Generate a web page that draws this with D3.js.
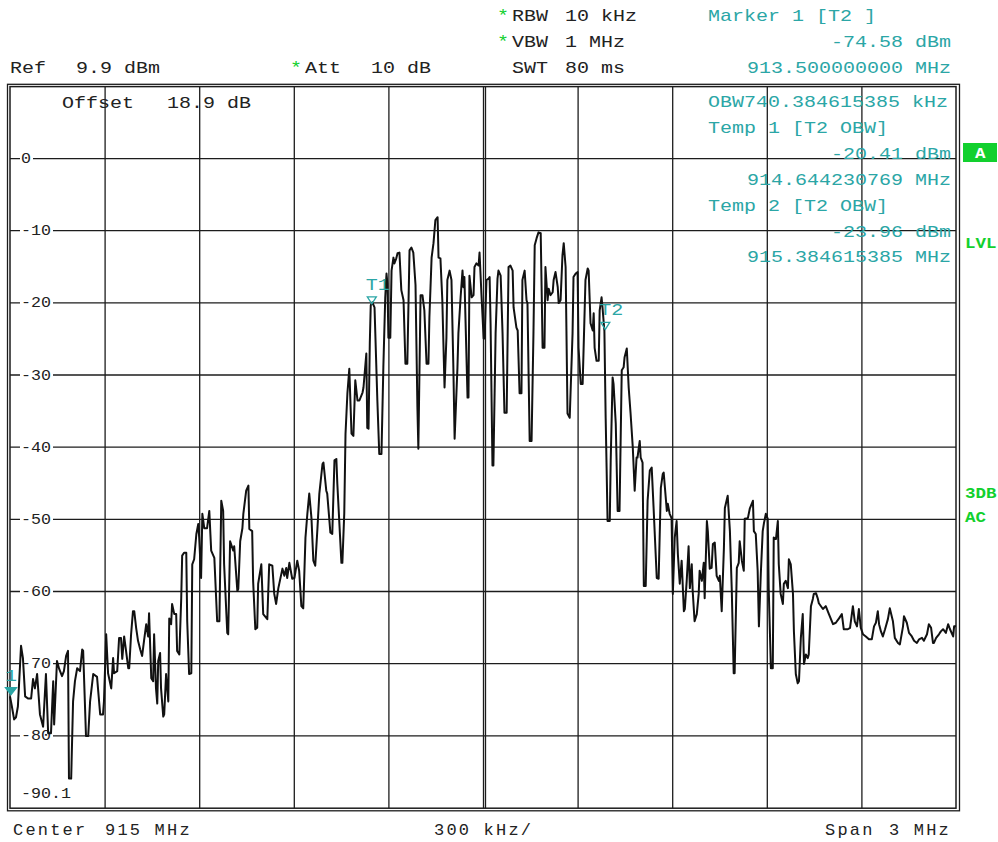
<!DOCTYPE html>
<html>
<head>
<meta charset="utf-8">
<script src="https://cdn.jsdelivr.net/npm/d3@7"></script>
<style>
  body { margin: 0; background: #fff; }
  text { font-family: "Liberation Mono", "Courier New", monospace; white-space: pre; }
</style>
</head>
<body>
<svg width="998" height="842"></svg>
<script>
// sweep settings
var startMHz = 913.5, stopMHz = 916.5, centerMHz = 915;
var refLevel = 9.9, bottomLevel = -90.1;

// grid / tick values
var gridFreqs = [913.8, 914.1, 914.4, 914.7, 915.0, 915.3, 915.6, 915.9, 916.2];
var gridLevels = [0, -10, -20, -30, -40, -50, -60, -70, -80];
var levelLabels = ["0", "-10", "-20", "-30", "-40", "-50", "-60", "-70", "-80"];

// trace: [kHz above start frequency, level dBm]
var trace = [
  [0,-74.6],[6,-76.0],[13,-77.8],[19,-77.5],[25,-76.0],[35,-67.6],[41,-69.3],[48,-74.6],[57,-74.9],[67,-74.9],
  [73,-72.2],[79,-73.5],[86,-71.5],[95,-77.1],[105,-78.8],[114,-71.5],[121,-79.7],[130,-79.7],[137,-72.5],[140,-78.5],
  [149,-69.7],[156,-70.8],[165,-71.8],[171,-71.1],[178,-69.0],[184,-68.3],[187,-86.0],[194,-86.0],[200,-75.3],[206,-72.5],
  [213,-70.7],[222,-71.1],[229,-68.1],[232,-68.3],[241,-80.1],[248,-80.1],[254,-75.3],[264,-71.5],[276,-71.9],[286,-77.1],
  [295,-77.1],[298,-75.3],[305,-66.0],[311,-71.4],[321,-73.5],[327,-69.3],[330,-71.4],[340,-71.1],[346,-66.5],[352,-66.5],
  [356,-69.4],[362,-66.3],[368,-68.3],[375,-70.7],[378,-70.7],[384,-66.0],[390,-62.8],[394,-62.8],[400,-65.1],[406,-66.9],
  [413,-68.1],[419,-69.0],[425,-66.9],[432,-64.6],[438,-66.3],[441,-63.1],[448,-72.1],[454,-72.5],[457,-66.0],[463,-73.5],
  [467,-75.6],[470,-69.7],[476,-68.6],[479,-73.5],[486,-77.4],[489,-77.1],[495,-71.5],[502,-75.3],[505,-63.8],[511,-64.6],
  [514,-61.8],[521,-63.2],[527,-63.2],[530,-68.3],[537,-68.8],[543,-61.0],[546,-55.1],[552,-54.7],[559,-54.7],[562,-64.2],
  [568,-71.5],[575,-71.4],[578,-56.3],[584,-55.6],[591,-52.1],[597,-50.7],[600,-52.6],[606,-58.2],[610,-49.3],[616,-51.3],
  [625,-51.3],[632,-48.9],[638,-54.4],[648,-55.4],[657,-64.2],[664,-64.2],[670,-47.5],[676,-48.9],[679,-56.3],[689,-65.8],
  [692,-66.0],[698,-53.1],[708,-54.4],[711,-53.8],[721,-60.0],[724,-59.7],[730,-53.1],[737,-51.3],[740,-49.3],[749,-46.1],
  [756,-45.4],[759,-51.4],[768,-51.7],[771,-58.6],[778,-65.3],[784,-65.1],[787,-59.0],[797,-56.3],[803,-63.2],[816,-63.9],
  [822,-56.3],[832,-56.5],[838,-60.4],[844,-61.8],[851,-59.6],[864,-56.9],[870,-57.9],[876,-56.8],[879,-58.2],[886,-56.1],
  [895,-58.3],[902,-58.2],[911,-55.8],[917,-57.2],[924,-62.1],[930,-62.4],[937,-52.6],[943,-49.3],[949,-46.5],[956,-49.9],
  [962,-55.8],[968,-56.5],[975,-51.3],[981,-46.5],[991,-42.4],[994,-42.2],[1003,-46.1],[1006,-46.5],[1016,-51.9],[1022,-52.1],
  [1029,-41.9],[1035,-41.7],[1038,-45.1],[1051,-56.1],[1054,-56.1],[1060,-49.3],[1064,-38.2],[1070,-32.6],[1076,-29.2],[1083,-38.2],
  [1089,-38.5],[1095,-30.8],[1102,-33.6],[1108,-33.6],[1118,-32.5],[1121,-31.8],[1130,-27.1],[1133,-37.4],[1137,-37.5],[1141,-25.7],
  [1144,-20.4],[1149,-20.0],[1156,-20.7],[1165,-33.6],[1171,-41.0],[1178,-41.0],[1184,-29.0],[1190,-19.3],[1194,-16.0],[1197,-17.4],
  [1200,-24.9],[1206,-24.9],[1210,-15.6],[1216,-13.8],[1219,-14.6],[1225,-13.9],[1229,-13.2],[1235,-13.1],[1241,-18.3],[1248,-19.7],
  [1254,-28.5],[1260,-28.5],[1267,-12.8],[1273,-12.4],[1279,-13.1],[1286,-17.6],[1292,-34.6],[1295,-40.3],[1302,-19.0],[1308,-19.0],
  [1314,-21.1],[1321,-28.5],[1327,-28.5],[1330,-22.1],[1337,-13.8],[1343,-11.8],[1349,-8.6],[1356,-8.2],[1359,-13.8],[1365,-13.9],
  [1371,-19.7],[1378,-31.8],[1384,-24.9],[1387,-16.9],[1394,-15.6],[1400,-16.9],[1406,-29.0],[1410,-38.9],[1419,-29.0],[1422,-24.3],
  [1429,-19.3],[1435,-15.6],[1438,-17.9],[1441,-16.5],[1451,-33.2],[1454,-33.2],[1457,-16.3],[1464,-19.3],[1470,-19.0],[1473,-15.1],
  [1479,-14.6],[1486,-14.9],[1489,-13.1],[1495,-18.8],[1502,-25.0],[1505,-25.0],[1511,-16.9],[1518,-16.7],[1521,-16.5],[1524,-22.9],
  [1530,-42.6],[1533,-42.6],[1540,-24.3],[1546,-16.7],[1549,-15.6],[1556,-16.3],[1562,-24.3],[1568,-35.3],[1575,-35.3],[1581,-15.1],
  [1587,-14.9],[1594,-15.6],[1597,-20.7],[1606,-23.5],[1610,-23.9],[1616,-32.6],[1622,-32.6],[1625,-16.9],[1632,-15.6],[1638,-19.7],
  [1641,-20.1],[1648,-39.2],[1654,-39.2],[1660,-24.3],[1664,-12.1],[1670,-11.1],[1676,-10.3],[1683,-10.4],[1686,-18.3],[1689,-26.3],
  [1695,-26.3],[1698,-15.1],[1705,-19.7],[1708,-18.1],[1714,-19.0],[1721,-18.6],[1724,-16.9],[1730,-15.8],[1737,-17.9],[1740,-20.1],
  [1746,-19.7],[1752,-13.5],[1756,-11.8],[1762,-15.1],[1768,-35.4],[1775,-36.0],[1784,-24.3],[1787,-16.5],[1794,-16.0],[1800,-15.8],
  [1803,-26.3],[1810,-31.3],[1816,-31.3],[1825,-16.9],[1832,-15.3],[1835,-15.6],[1841,-22.9],[1848,-23.9],[1851,-21.5],[1854,-26.3],
  [1860,-28.1],[1867,-28.1],[1870,-21.1],[1876,-19.3],[1879,-20.7],[1885,-24.0],[1889,-36.0],[1892,-43.0],[1895,-50.3],[1902,-50.3],
  [1905,-41.9],[1911,-30.4],[1914,-31.3],[1921,-36.8],[1927,-48.9],[1933,-48.9],[1940,-29.4],[1946,-29.0],[1949,-27.6],[1956,-26.4],
  [1962,-31.8],[1968,-35.4],[1975,-40.1],[1981,-46.1],[1987,-41.5],[1990,-41.5],[1997,-39.2],[2000,-41.5],[2006,-42.2],[2010,-59.3],
  [2016,-59.3],[2022,-47.5],[2029,-43.3],[2035,-42.9],[2041,-48.5],[2051,-58.2],[2057,-58.3],[2064,-45.7],[2070,-43.8],[2073,-43.6],
  [2083,-48.9],[2086,-47.9],[2092,-49.3],[2098,-49.9],[2102,-60.4],[2108,-52.6],[2114,-50.3],[2118,-54.9],[2124,-59.0],[2130,-55.8],
  [2137,-62.8],[2140,-62.5],[2146,-58.6],[2152,-53.8],[2156,-59.6],[2162,-56.3],[2165,-60.0],[2171,-64.2],[2178,-63.2],[2184,-60.4],
  [2187,-57.2],[2194,-58.6],[2200,-56.1],[2203,-61.0],[2210,-50.3],[2213,-51.7],[2219,-56.9],[2225,-56.8],[2229,-53.5],[2235,-53.3],
  [2241,-57.9],[2248,-58.6],[2251,-57.9],[2257,-62.8],[2264,-54.0],[2267,-48.5],[2276,-46.8],[2283,-51.7],[2289,-60.0],[2295,-71.4],
  [2298,-71.4],[2305,-56.8],[2311,-56.1],[2314,-53.1],[2321,-55.8],[2327,-57.2],[2330,-50.0],[2340,-49.9],[2346,-48.6],[2356,-47.5],
  [2359,-51.7],[2365,-52.1],[2371,-57.2],[2375,-64.9],[2381,-57.6],[2387,-51.7],[2391,-50.6],[2397,-49.3],[2403,-50.0],[2406,-59.6],
  [2413,-70.7],[2419,-70.7],[2422,-52.6],[2429,-52.8],[2435,-50.3],[2438,-56.3],[2444,-60.4],[2451,-61.8],[2454,-59.0],[2460,-58.6],
  [2467,-59.6],[2470,-55.6],[2476,-56.3],[2483,-60.4],[2486,-65.6],[2492,-71.5],[2498,-72.8],[2502,-72.5],[2508,-66.5],[2514,-63.2],
  [2518,-70.1],[2524,-68.8],[2530,-69.3],[2533,-68.8],[2540,-62.1],[2546,-61.1],[2549,-60.4],[2556,-60.3],[2562,-61.1],[2565,-61.7],
  [2578,-62.5],[2587,-62.1],[2597,-63.2],[2610,-64.6],[2619,-64.4],[2629,-63.8],[2638,-63.2],[2644,-65.3],[2657,-65.3],[2664,-65.1],
  [2673,-62.1],[2679,-64.2],[2686,-64.9],[2692,-62.5],[2698,-65.1],[2705,-66.0],[2714,-66.3],[2724,-66.7],[2733,-66.7],[2740,-64.9],
  [2746,-64.4],[2752,-62.8],[2756,-64.6],[2762,-65.6],[2768,-66.3],[2775,-65.3],[2784,-63.9],[2790,-62.4],[2800,-64.2],[2806,-66.5],
  [2816,-67.2],[2822,-67.4],[2832,-64.9],[2835,-63.5],[2844,-64.4],[2851,-65.8],[2860,-66.3],[2867,-66.9],[2876,-67.2],[2883,-66.7],
  [2892,-66.5],[2898,-66.9],[2908,-66.0],[2914,-64.6],[2921,-65.1],[2927,-67.2],[2930,-67.2],[2937,-66.5],[2946,-66.0],[2952,-65.6],
  [2959,-65.3],[2968,-65.8],[2975,-64.6],[2981,-65.3],[2991,-66.3],[2994,-64.9],[3000,-64.9]
];

// markers
var markerNames = ["1", "T1", "T2"];
var markerFreqs = [913.5, 914.644230769, 915.384615385];
var markerLevels = [-74.58, -20.41, -23.96];

// marker info block (right, top)
var infoLines = ["Marker 1 [T2 ]", "-74.58 dBm", "913.500000000 MHz", "OBW740.384615385 kHz",
  "Temp 1 [T2 OBW]", "-20.41 dBm", "914.644230769 MHz", "Temp 2 [T2 OBW]", "-23.96 dBm", "915.384615385 MHz"];
var infoAlign = ["l", "r", "r", "l", "l", "r", "r", "l", "r", "r"];

var teal = "#2ba6a6", green = "#12d02e", ink = "#222";

var svg = d3.select("svg");
var plotL = 10, plotR = 956, plotT = 86.6, plotB = 808.2;

var x = d3.scaleLinear().domain([startMHz, stopMHz]).range([plotL, plotR]);
var y = d3.scaleLinear().domain([bottomLevel, refLevel]).range([plotB, plotT]);

// monospaced text, squeezed/stretched to a fixed character pitch
function mono(str, x0, base, pitch, size, fill, weight) {
  return svg.append("text")
    .attr("x", x0).attr("y", base)
    .attr("font-size", size)
    .attr("font-weight", weight || "normal")
    .attr("fill", fill || ink)
    .attr("textLength", str.length * pitch)
    .attr("lengthAdjust", "spacingAndGlyphs")
    .text(str);
}

// grid
svg.append("g")
  .attr("class", "grid")
  .attr("transform", "translate(0," + plotB + ")")
  .call(d3.axisBottom(x).tickValues(gridFreqs).tickSize(-(plotB - plotT)).tickFormat(""));
svg.append("g")
  .attr("class", "grid")
  .attr("transform", "translate(" + plotL + ",0)")
  .call(d3.axisLeft(y).tickValues(gridLevels).tickSize(-(plotR - plotL)).tickFormat(""));
svg.selectAll(".grid .domain").remove();
svg.selectAll(".grid line").attr("stroke", "#1c1c1c").attr("stroke-width", 1.3);

// centre line is drawn doubled
svg.append("line")
  .attr("x1", x(centerMHz) + 2.5).attr("x2", x(centerMHz) + 2.5)
  .attr("y1", plotT).attr("y2", plotB)
  .attr("stroke", "#1c1c1c").attr("stroke-width", 1.3);

// frames
svg.append("rect")
  .attr("x", plotL).attr("y", plotT).attr("width", plotR - plotL).attr("height", plotB - plotT)
  .attr("fill", "none").attr("stroke", "#1c1c1c").attr("stroke-width", 1.5);
svg.append("rect")
  .attr("x", 7.5).attr("y", 84.3).attr("width", 952).attr("height", 726.5)
  .attr("fill", "none").attr("stroke", "#1c1c1c").attr("stroke-width", 1.3);

// level labels inside the grid
gridLevels.forEach(function(v, i) {
  var s = levelLabels[i];
  svg.append("rect")
    .attr("x", 20).attr("y", y(v) - 7)
    .attr("width", s.length * 10 + 3).attr("height", 14)
    .attr("fill", "#fff");
  mono(s, 21, y(v) + 5, 10, 14.5);
});
mono(bottomLevel.toFixed(1), 21, 798, 10, 14.5);

// header
mono("Ref", 10, 73, 12, 17);
mono("9.9 dBm", 76, 73, 12, 17);
mono("*", 290, 73, 12, 17, green);
mono("Att", 305, 73, 12, 17);
mono("10 dB", 371, 73, 12, 17);
mono("*", 497, 21, 12, 17, green);
mono("RBW", 512, 21, 12, 17);
mono("10 kHz", 565, 21, 12, 17);
mono("*", 497, 47, 12, 17, green);
mono("VBW", 512, 47, 12, 17);
mono("1 MHz", 565, 47, 12, 17);
mono("SWT", 512, 73, 12, 17);
mono("80 ms", 565, 73, 12, 17);
mono("Offset", 62, 108, 12, 17);
mono("18.9 dB", 167, 108, 12, 17);

// marker info
var infoBase = [21, 47, 73, 107, 133, 159, 185, 211, 237, 262];
infoLines.forEach(function(s, i) {
  var x0 = infoAlign[i] === "r" ? 711 + (20 - s.length) * 12 : 708;
  mono(s, x0, infoBase[i], 12, 17, teal);
});

// footer
function foot(s, x0) {
  svg.append("text").attr("x", x0).attr("y", 835)
    .attr("font-size", 17).attr("letter-spacing", 2.2).attr("fill", ink).text(s);
}
foot("Center", 13);
foot("915 MHz", 105);
foot("300 kHz/", 434);
foot("Span", 825);
foot("3 MHz", 889);

// side annotations
svg.append("rect").attr("x", 963).attr("y", 143).attr("width", 34).attr("height", 19).attr("fill", green);
mono("A", 975, 157.5, 10.5, 14, "#fff", "bold");
mono("LVL", 965, 248, 10.5, 14, green, "bold");
mono("3DB", 965, 498, 10.5, 14, green, "bold");
mono("AC", 965, 522, 10.5, 14, green, "bold");

// trace
var line = d3.line()
  .x(function(d) { return x(startMHz + d[0] / 1000); })
  .y(function(d) { return y(d[1]); });

svg.append("path")
  .datum(trace)
  .attr("d", line)
  .attr("fill", "none")
  .attr("stroke", "#111")
  .attr("stroke-width", 2)
  .attr("stroke-linejoin", "round");

// markers
markerNames.forEach(function(name, i) {
  var mx = x(markerFreqs[i]) + 1, my = y(markerLevels[i]) - 1.5;
  var filled = name === "1";
  var w = filled ? 5.5 : 4.5, h = 7;
  svg.append("path")
    .attr("d", "M" + (mx - w) + "," + (my - h) + "L" + (mx + w) + "," + (my - h) + "L" + mx + "," + my + "Z")
    .attr("fill", filled ? teal : "none")
    .attr("stroke", teal)
    .attr("stroke-width", 1.3);
  mono(name, mx - 6, my - 14, 12, 16, teal);
});
</script>
</body>
</html>
